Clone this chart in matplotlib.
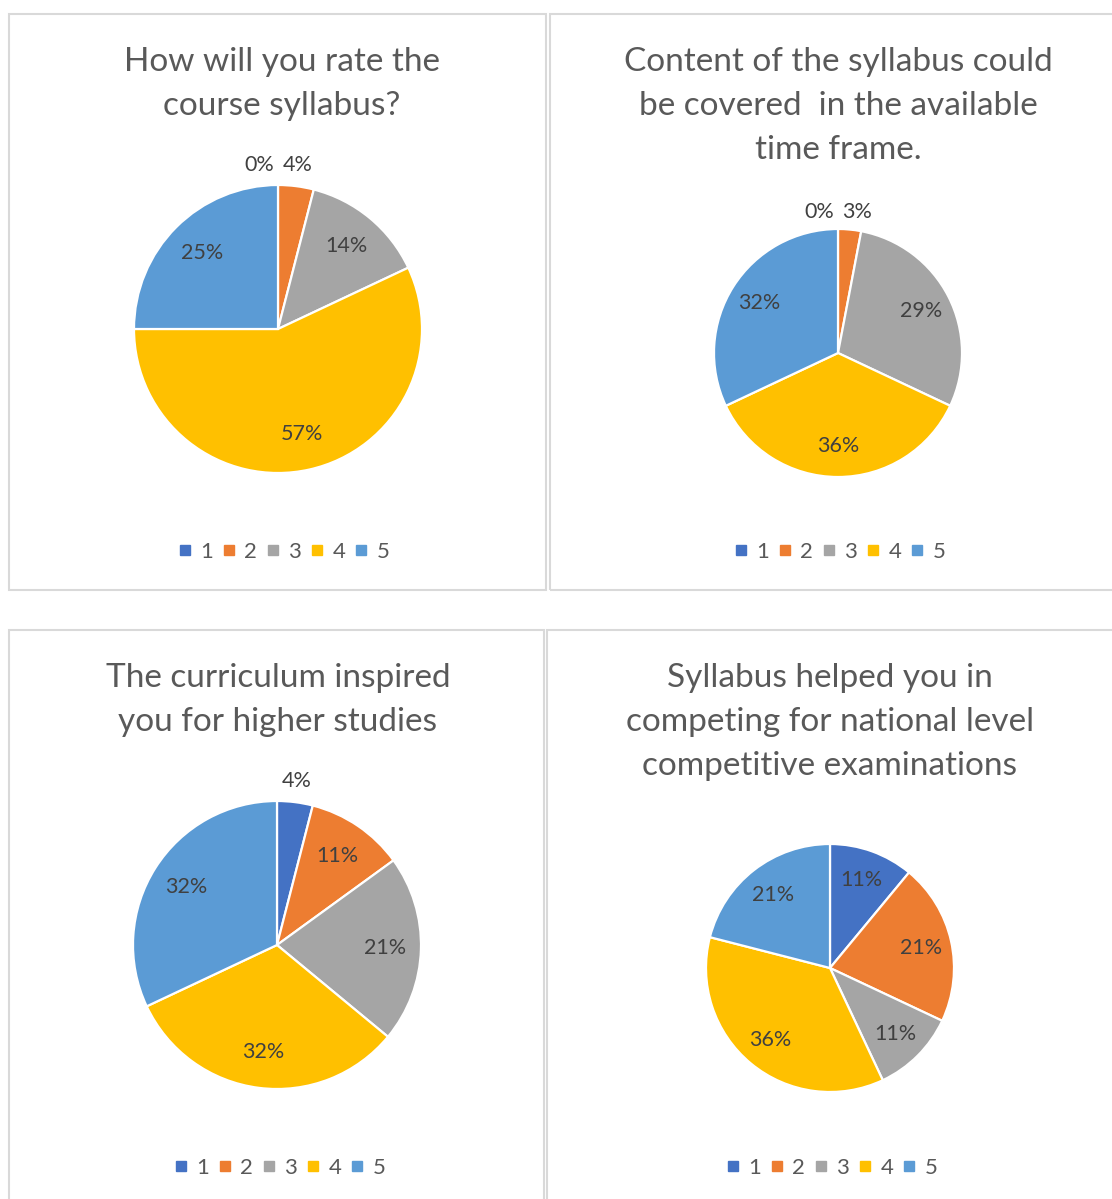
import matplotlib.pyplot as plt
from matplotlib.lines import Line2D
from matplotlib.patches import Rectangle
import numpy as np

plt.rcParams['font.family'] = ['Lato', 'DejaVu Sans']

# survey answers on a 1-5 scale, share of respondents in %
ratings = ['1', '2', '3', '4', '5']
colors = ['#4472C4', '#ED7D31', '#A5A5A5', '#FFC000', '#5B9BD5']

syllabus_rating = [0, 4, 14, 57, 25]
covered_in_time = [0, 3, 29, 36, 32]
inspired_higher = [4, 11, 21, 32, 32]
competitive_exams = [11, 21, 11, 36, 21]

titles = [
    'How will you rate the\ncourse syllabus?',
    'Content of the syllabus could\nbe covered  in the available\ntime frame.',
    'The curriculum inspired\nyou for higher studies',
    'Syllabus helped you in\ncompeting for national level\ncompetitive examinations',
]
series = [syllabus_rating, covered_in_time, inspired_higher, competitive_exams]

W, H = 1112, 1199
fig = plt.figure(figsize=(W / 100, H / 100), dpi=100)

# panel boxes (left, top, right, bottom) in pixels
panels = [(9, 14, 546, 590), (550, 14, 1125, 590),
          (9, 630, 544, 1215), (547, 630, 1125, 1215)]
# pie centre and radius in pixels
pies = [(278, 329, 144), (838, 353, 124), (277, 945, 144), (830, 968, 124)]
title_x = [282, 838, 278, 830]
title_top = [47, 47, 663, 663]
legend_y = [552, 552, 1168, 1168]

for (x0, y0, x1, y1) in panels:
    fig.patches.append(Rectangle((x0 / W, 1 - y1 / H), (x1 - x0) / W, (y1 - y0) / H,
                                 transform=fig.transFigure, fill=False,
                                 edgecolor='#D9D9D9', linewidth=1.5))

for i, vals in enumerate(series):
    cx, cy, R = pies[i]
    k = 1.35
    ax = fig.add_axes([(cx - k * R) / W, 1 - (cy + k * R) / H, 2 * k * R / W, 2 * k * R / H])
    wedges, _ = ax.pie(vals, colors=colors, startangle=90, counterclock=False,
                       wedgeprops=dict(edgecolor='white', linewidth=1.6))
    ax.set_xlim(-k, k)
    ax.set_ylim(-k, k)
    ax.set_aspect('equal')
    ax.axis('off')

    for w, v in zip(wedges, vals):
        ang = np.deg2rad((w.theta1 + w.theta2) / 2)
        if v < 5:
            # thin slices at the top get their label just outside the rim
            side = 'right' if v == 0 else 'left'
            ax.text(-0.03 if v == 0 else 0.03, 1.14, f'{v}%', ha=side, va='center',
                    fontsize=15.5, color='#404040')
        else:
            ax.text(0.75 * np.cos(ang), 0.75 * np.sin(ang), f'{v}%', ha='center',
                    va='center', fontsize=15.5, color='#404040')

    fig.text(title_x[i] / W, 1 - title_top[i] / H, titles[i], ha='center', va='top',
             fontsize=24, color='#595959', linespacing=1.58)

    handles = [Line2D([], [], marker='s', linestyle='none', markersize=6.5,
                      markerfacecolor=c, markeredgecolor=c) for c in colors]
    fig.legend(handles, ratings, loc='center', ncol=5, frameon=False,
               bbox_to_anchor=(title_x[i] / W + 0.002, 1 - legend_y[i] / H),
               fontsize=16, labelcolor='#595959', handlelength=0.5,
               handletextpad=0.45, columnspacing=0.45)

fig.savefig('out.png', dpi=100, facecolor='white')
